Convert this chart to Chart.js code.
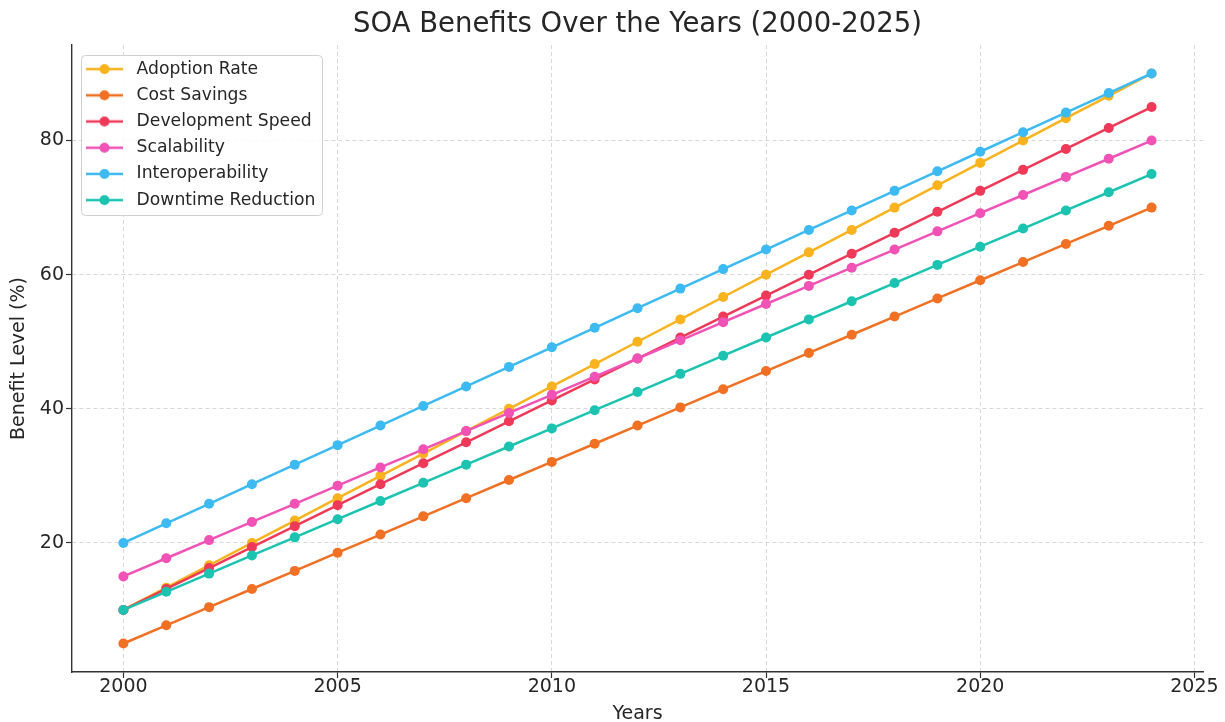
<!DOCTYPE html>
<html>
<head>
<meta charset="utf-8">
<title>SOA Benefits Over the Years</title>
<script src="https://cdn.jsdelivr.net/npm/chart.js@4.4.1/dist/chart.umd.min.js"></script>
<style>
  html, body { margin: 0; padding: 0; background: #ffffff; }
  canvas { display: block; }
</style>
</head>
<body>
<canvas id="chart" width="1225" height="722"></canvas>
<script>
// Years on the x axis
const years = [2000, 2001, 2002, 2003, 2004, 2005, 2006, 2007, 2008, 2009, 2010, 2011, 2012,
               2013, 2014, 2015, 2016, 2017, 2018, 2019, 2020, 2021, 2022, 2023, 2024];

// Benefit level (%) per series
const adoptionRate = [10, 13.33, 16.67, 20, 23.33, 26.67, 30, 33.33, 36.67, 40, 43.33, 46.67, 50,
                      53.33, 56.67, 60, 63.33, 66.67, 70, 73.33, 76.67, 80, 83.33, 86.67, 90];
const costSavings = [5, 7.71, 10.42, 13.13, 15.83, 18.54, 21.25, 23.96, 26.67, 29.38, 32.08, 34.79, 37.5,
                     40.21, 42.92, 45.63, 48.33, 51.04, 53.75, 56.46, 59.17, 61.88, 64.58, 67.29, 70];
const developmentSpeed = [10, 13.13, 16.25, 19.38, 22.5, 25.63, 28.75, 31.88, 35, 38.13, 41.25, 44.38, 47.5,
                          50.63, 53.75, 56.88, 60, 63.13, 66.25, 69.38, 72.5, 75.63, 78.75, 81.88, 85];
const scalability = [15, 17.71, 20.42, 23.13, 25.83, 28.54, 31.25, 33.96, 36.67, 39.38, 42.08, 44.79, 47.5,
                     50.21, 52.92, 55.63, 58.33, 61.04, 63.75, 66.46, 69.17, 71.88, 74.58, 77.29, 80];
const interoperability = [20, 22.92, 25.83, 28.75, 31.67, 34.58, 37.5, 40.42, 43.33, 46.25, 49.17, 52.08, 55,
                          57.92, 60.83, 63.75, 66.67, 69.58, 72.5, 75.42, 78.33, 81.25, 84.17, 87.08, 90];
const downtimeReduction = [10, 12.71, 15.42, 18.13, 20.83, 23.54, 26.25, 28.96, 31.67, 34.38, 37.08, 39.79, 42.5,
                           45.21, 47.92, 50.63, 53.33, 56.04, 58.75, 61.46, 64.17, 66.88, 69.58, 72.29, 75];

const seriesNames = ['Adoption Rate', 'Cost Savings', 'Development Speed', 'Scalability',
                     'Interoperability', 'Downtime Reduction'];
const seriesValues = [adoptionRate, costSavings, developmentSpeed, scalability,
                      interoperability, downtimeReduction];
const seriesColors = ['#F9B31E', '#F07024', '#EE3A58', '#F052B6', '#3DBAF2', '#1CC3B0'];

// Tick labels
const xTickValues = [2000, 2005, 2010, 2015, 2020, 2025];
const yTickValues = [20, 40, 60, 80];

const FONT = 'DejaVu Sans';
const TEXT = '#262626';

// Legend handle: a short line with a dot in the middle
function legendHandle(color) {
  const c = document.createElement('canvas');
  c.width = 42; c.height = 14;
  const g = c.getContext('2d');
  g.strokeStyle = color; g.lineWidth = 2.5;
  g.beginPath(); g.moveTo(0, 7); g.lineTo(37, 7); g.stroke();
  g.fillStyle = color;
  g.beginPath(); g.arc(18.5, 7, 5, 0, Math.PI * 2); g.fill();
  return c;
}
const handles = seriesColors.map(legendHandle);

// Places the legend inside the plot and gives it a rounded frame
const legendFrame = {
  id: 'legendFrame',
  afterLayout(chart) {
    const lg = chart.legend;
    const area = chart.chartArea;
    lg.left = area.left + 5;
    lg.top = area.top + 6.5;
    lg.right = lg.left + lg.width;
    lg.bottom = lg.top + lg.height;
    if (!lg._framed) {
      const drawLegend = lg.draw;
      lg.draw = function () {
        const ctx = this.ctx;
        ctx.save();
        ctx.beginPath();
        ctx.roundRect(this.left + 4.5, this.top + 4, 241, 160, 4);
        ctx.fillStyle = 'rgba(255,255,255,0.85)';
        ctx.fill();
        ctx.lineWidth = 1;
        ctx.strokeStyle = '#d0d0d0';
        ctx.stroke();
        ctx.restore();
        drawLegend.apply(this, arguments);
      };
      lg._framed = true;
    }
  }
};

const datasets = seriesNames.map((name, i) => ({
  label: name,
  data: years.map((yr, j) => ({ x: yr, y: seriesValues[i][j] })),
  borderColor: seriesColors[i],
  backgroundColor: seriesColors[i],
  pointBackgroundColor: seriesColors[i],
  borderWidth: 2.5,
  pointRadius: 5,
  pointBorderWidth: 0,
  tension: 0,
  clip: false,
  order: seriesNames.length - i
}));

const gridLines = {
  color: 'rgba(195,195,195,0.65)',
  lineWidth: 1,
  tickLength: 6,
  tickColor: '#333',
  tickWidth: 1.2,
  tickBorderDash: []
};

new Chart(document.getElementById('chart'), {
  type: 'line',
  data: { datasets },
  plugins: [legendFrame],
  options: {
    responsive: false,
    animation: false,
    events: [],
    layout: { padding: { left: 0, right: 22, top: 0, bottom: 0 } },
    plugins: {
      title: {
        display: true,
        text: 'SOA Benefits Over the Years (2000-2025)',
        fullSize: false,
        color: TEXT,
        font: { family: FONT, size: 27.5, weight: 'normal', lineHeight: 1.2 },
        padding: { top: 8, bottom: 4 }
      },
      legend: {
        display: true,
        position: 'chartArea',
        align: 'start',
        labels: {
          usePointStyle: true,
          pointStyleWidth: 42,
          padding: 9,
          color: TEXT,
          font: { family: FONT, size: 17.2 },
          generateLabels(chart) {
            const items = Chart.defaults.plugins.legend.labels.generateLabels(chart);
            items.sort((a, b) => a.datasetIndex - b.datasetIndex);
            items.forEach(it => { it.pointStyle = handles[it.datasetIndex]; });
            return items;
          }
        }
      },
      tooltip: { enabled: false }
    },
    scales: {
      x: {
        type: 'linear',
        min: 1998.8,
        max: 2025.2,
        afterBuildTicks(scale) { scale.ticks = xTickValues.map(v => ({ value: v })); },
        afterFit(scale) { scale.height = 50; scale.paddingLeft = 0; scale.paddingRight = 0; },
        ticks: {
          color: TEXT,
          padding: 0,
          maxRotation: 0,
          autoSkip: false,
          font: { family: FONT, size: 19, lineHeight: 1 },
          callback: v => String(v)
        },
        grid: gridLines,
        border: { display: true, color: '#333', width: 1.4, dash: [4, 3] },
        title: {
          display: true,
          text: 'Years',
          color: TEXT,
          font: { family: FONT, size: 19, lineHeight: 0.8 },
          padding: { top: 0, bottom: 0 }
        }
      },
      y: {
        type: 'linear',
        min: 0.75,
        max: 94.25,
        afterBuildTicks(scale) { scale.ticks = yTickValues.map(v => ({ value: v })); },
        afterFit(scale) { scale.width = 72; scale.paddingTop = 0; scale.paddingBottom = 0; },
        ticks: {
          color: TEXT,
          padding: 2,
          autoSkip: false,
          font: { family: FONT, size: 19 },
          callback: v => String(v)
        },
        grid: gridLines,
        border: { display: true, color: '#333', width: 1.4, dash: [4, 3] },
        title: {
          display: true,
          text: 'Benefit Level (%)',
          color: TEXT,
          font: { family: FONT, size: 19, lineHeight: 1 },
          padding: { top: 10, bottom: 0 }
        }
      }
    }
  }
});
</script>
</body>
</html>
